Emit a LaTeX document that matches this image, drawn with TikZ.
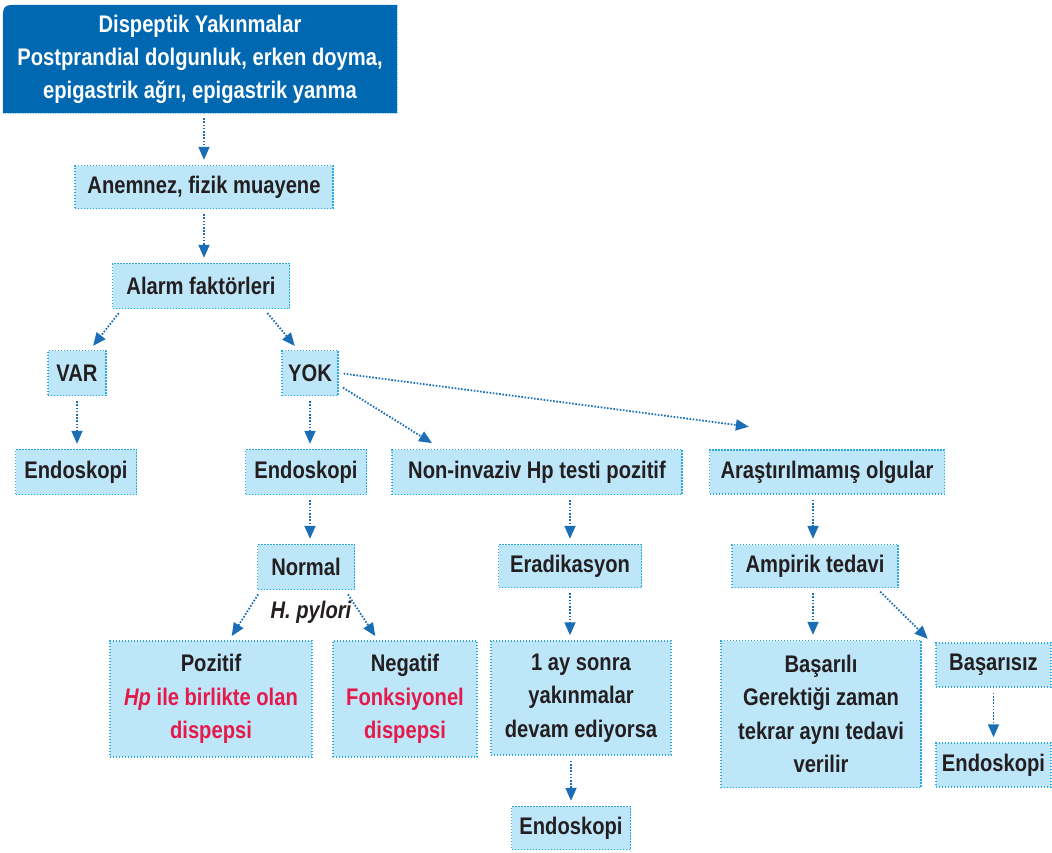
\documentclass[tikz,border=0pt]{standalone}
\usepackage{fontspec}
\setmainfont{Liberation Sans}[FakeStretch=0.84]
\usepackage{tikz}
\usetikzlibrary{arrows.meta,positioning,calc,backgrounds}

\definecolor{topblue}{RGB}{0,103,177}
\definecolor{boxblue}{RGB}{190,230,249}
\definecolor{lineblue}{RGB}{41,171,226}
\definecolor{arrowblue}{RGB}{27,110,181}
\definecolor{darktext}{RGB}{35,31,32}
\definecolor{hpred}{RGB}{230,25,75}

\tikzset{
    box/.style={draw=lineblue, fill=boxblue, line width=1.4pt, dash pattern=on 1.4pt off 1.6pt,
        inner sep=0pt, text=darktext, align=center,
        font=\fontsize{24}{33.5}\selectfont\bfseries},
    flow/.style={draw=arrowblue, line width=1.8pt, dash pattern=on 1.6pt off 1.6pt,
        shorten <=5pt, shorten >=5pt, -{Triangle[length=13pt,width=11pt]}},
}

\begin{document}
\begin{tikzpicture}[x=1pt, y=-1pt]
    \useasboundingbox (0,0) rectangle (1052,852);

    % Top box
    \node[align=center, text=white, inner sep=0pt, minimum width=394pt, minimum height=108pt,
        font=\fontsize{24}{33}\selectfont\bfseries] (top) at (200,59)
        {Dispeptik Yakınmalar\\Postprandial dolgunluk, erken doyma,\\epigastrik ağrı, epigastrik yanma};
    \begin{scope}[on background layer]
        \fill[topblue] (top.south west) -- ($(top.north west)+(0,18)$)
            .. controls (top.north west) .. ($(top.north west)+(18,0)$)
            -- (top.north east) -- (top.south east) -- cycle;
        \draw[lineblue!60, line width=1pt, dash pattern=on 1pt off 1.5pt]
            (top.south west) -- (top.south east) -- (top.north east);
    \end{scope}

    % Boxes
    \node[box, minimum width=258pt, minimum height=43pt] (anem) at (204,187) {Anemnez, fizik muayene};
    \node[box, minimum width=177pt, minimum height=45pt] (alarm) at (201,286) {Alarm faktörleri};
    \node[box, minimum width=58pt, minimum height=45pt] (var) at (77,373) {VAR};
    \node[box, minimum width=56pt, minimum height=45pt] (yok) at (310,373) {YOK};
    \node[box, minimum width=121pt, minimum height=45pt] (endoA) at (76,472) {Endoskopi};
    \node[box, minimum width=121pt, minimum height=45pt] (endoB) at (306,472) {Endoskopi};
    \node[box, minimum width=290pt, minimum height=45pt] (noninv) at (537,472) {Non-invaziv Hp testi pozitif};
    \node[box, minimum width=235pt, minimum height=44pt] (arast) at (827,472) {Araştırılmamış olgular};
    \node[box, minimum width=97pt, minimum height=45pt] (normal) at (306,567) {Normal};
    \node[box, minimum width=143pt, minimum height=43pt] (erad) at (570,566) {Eradikasyon};
    \node[box, minimum width=166pt, minimum height=43pt] (ampir) at (815,566) {Ampirik tedavi};
    \node[box, minimum width=202pt, minimum height=116pt] (pozit) at (211,699)
        {Pozitif\\{\color{hpred}{\itshape Hp} ile birlikte olan}\\{\color{hpred}dispepsi}};
    \node[box, minimum width=144pt, minimum height=116pt] (negat) at (405,699)
        {Negatif\\{\color{hpred}Fonksiyonel}\\{\color{hpred}dispepsi}};
    \node[box, minimum width=180pt, minimum height=114pt] (ay) at (581,698)
        {1 ay sonra\\yakınmalar\\devam ediyorsa};
    \node[box, minimum width=119pt, minimum height=43pt] (endoC) at (571,828) {Endoskopi};
    \node[box, minimum width=200pt, minimum height=147pt] (basarili) at (821,714)
        {Başarılı\\Gerektiği zaman\\tekrar aynı tedavi\\verilir};
    \node[box, minimum width=115pt, minimum height=44pt] (basarisiz) at (993.5,665) {Başarısız};
    \node[box, minimum width=115pt, minimum height=44pt] (endoD) at (993.5,765) {Endoskopi};

    % Label
    \node[text=darktext, font=\fontsize{24}{26}\selectfont\bfseries\itshape] (hpyl) at (311,612) {H. pylori};

    % Arrows
    \draw[flow] ($(top.south)+(4,0)$) -- (anem.north);
    \draw[flow] (anem.south) -- (anem.south |- alarm.north);
    \draw[flow] ($(alarm.south west)+(10,0)$) -- ($(var.north)+(13,0)$);
    \draw[flow] ($(alarm.south east)+(-26,0)$) -- ($(yok.north)+(-12,0)$);
    \draw[flow] (var.south) -- (var.south |- endoA.north);
    \draw[flow] (yok.south) -- (yok.south |- endoB.north);
    \draw[flow] ($(yok.east)+(0,12)$) -- ($(noninv.north west)+(45,-3)$);
    \draw[flow] (yok.east) -- ($(arast.north west)+(45,-22)$);
    \draw[flow] ($(endoB.south)+(4,0)$) -- ($(normal.north)+(4,0)$);
    \draw[flow] ($(normal.south west)+(4,0)$) -- ($(pozit.north)+(18,0)$);
    \draw[flow] ($(normal.south east)+(-10,0)$) -- ($(negat.north)+(-27,0)$);
    \draw[flow] (noninv.south -| erad.north) -- (erad.north);
    \draw[flow] (erad.south) -- (erad.south |- ay.north);
    \draw[flow] (ay.south -| endoC.north) -- (endoC.north);
    \draw[flow] ($(arast.south)+(-14,0)$) -- ($(ampir.north)+(-2,0)$);
    \draw[flow] ($(ampir.south)+(-2,0)$) -- ($(ampir.south |- basarili.north)+(-2,0)$);
    \draw[flow] ($(ampir.south east)+(-22,0)$) -- ($(basarisiz.north west)+(-4,0)$);
    \draw[flow] (basarisiz.south) -- (endoD.north);
\end{tikzpicture}
\end{document}
